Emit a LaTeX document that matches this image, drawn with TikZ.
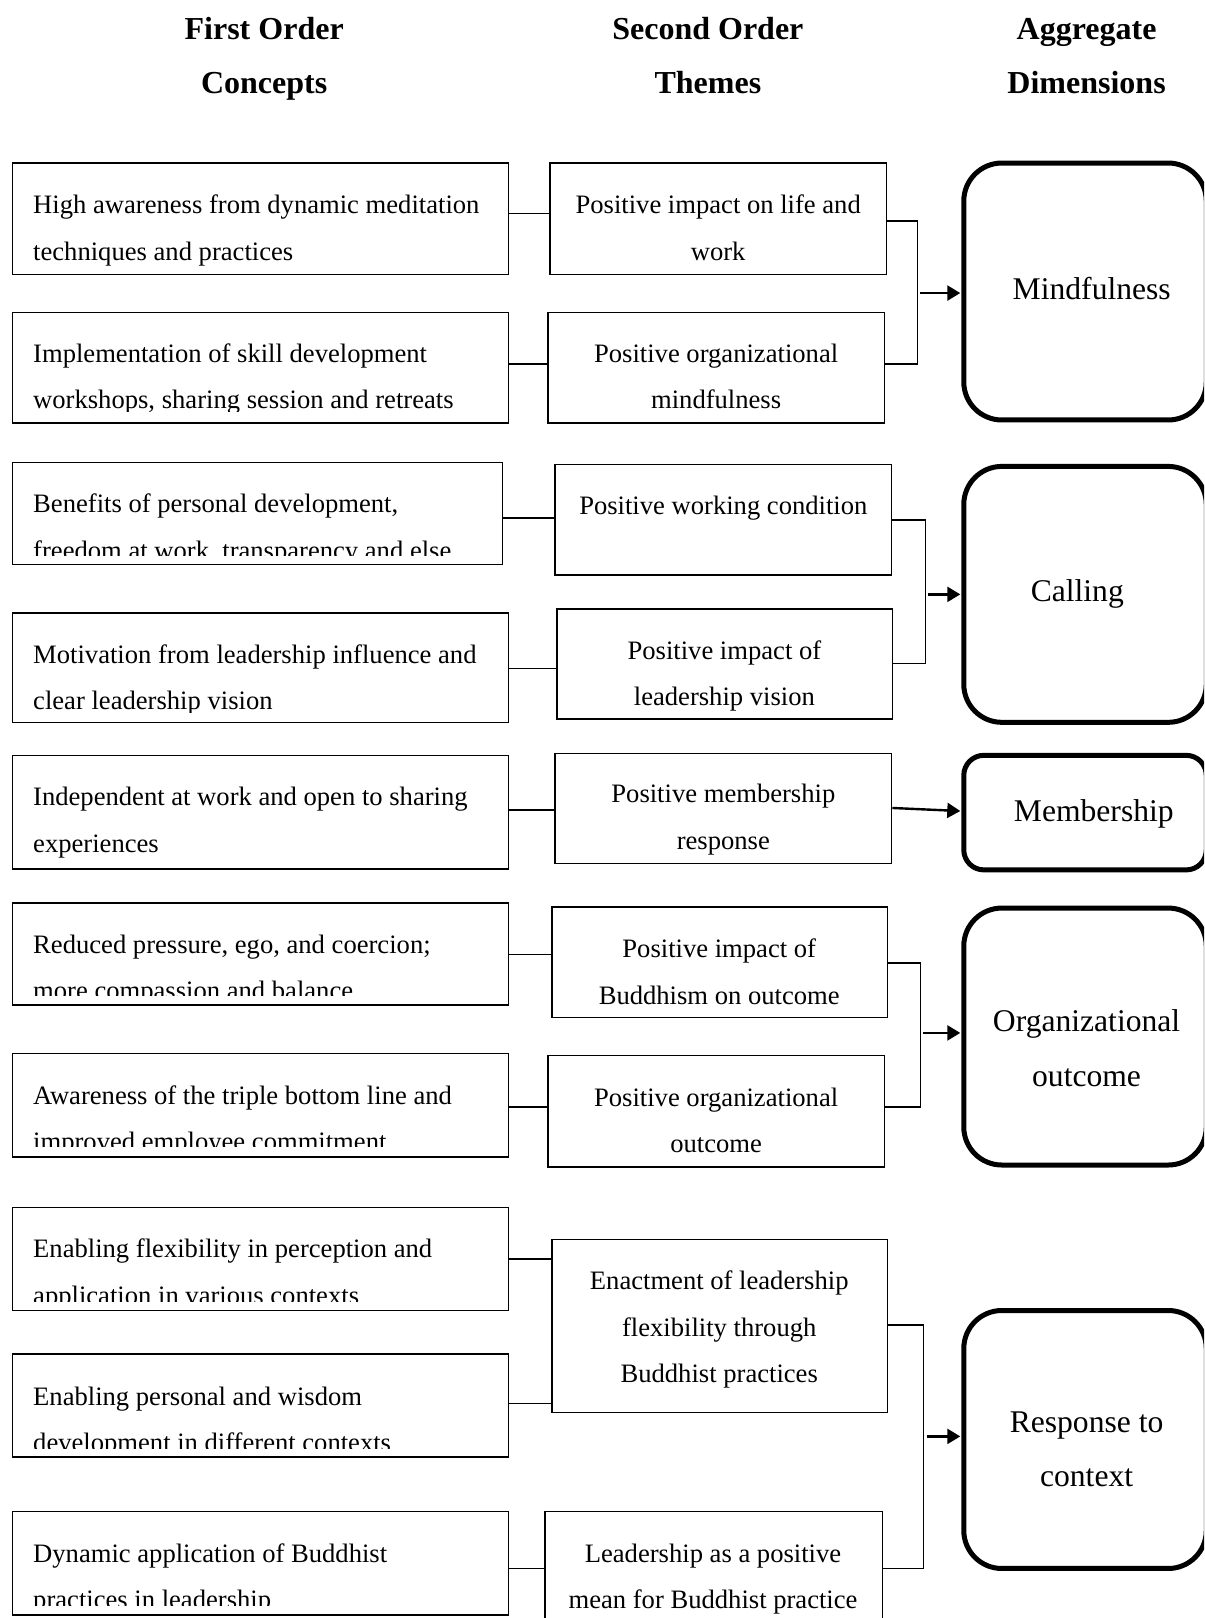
\documentclass[tikz,border=0pt]{standalone}
\usepackage{fontspec}
\setmainfont{Liberation Serif}
\usetikzlibrary{fit,arrows.meta}
\tikzset{
  box/.style={draw=black, line width=1.5pt, inner sep=0pt, rectangle},
  dimbox/.style={draw=black, line width=5pt, inner sep=0pt, rectangle, rounded corners=38pt},
  dimboxs/.style={draw=black, line width=5pt, inner sep=0pt, rectangle, rounded corners=20pt},
  lefttxt/.style={anchor=base west, align=left, inner sep=0pt, font=\fontsize{26.6}{46.4}\selectfont},
  midtxt/.style={anchor=base, align=center, inner sep=0pt, font=\fontsize{26.6}{46.4}\selectfont},
  dimtxt/.style={anchor=base, align=center, inner sep=0pt, font=\fontsize{31.6}{54.7}\selectfont},
  headtxt/.style={anchor=base, align=center, inner sep=0pt, font=\bfseries\fontsize{32}{54.7}\selectfont},
  link/.style={draw=black, line width=1.6pt},
  arr/.style={draw=black, line width=2.4pt, -{Triangle[length=13pt,width=15pt]}, shorten >=1pt},
}
\begin{document}
\begin{tikzpicture}[x=1.0317pt,y=-1.0317pt]
\useasboundingbox (0,0) rectangle (1167,1568);
\clip (0,0) rectangle (1167,1568);
\fill[white] (0,0) rectangle (1167,1568);

% headers (base = last line)
\node[headtxt] (h1) at (256,91) {First Order\\Concepts};
\node[headtxt] (h2) at (686,91) {Second Order\\Themes};
\node[headtxt] (h3) at (1053,91) {Aggregate\\Dimensions};

% left boxes
\node[box, fit={(12,158)(493,266)}] (l1) {};
\node[box, fit={(12,303)(493,410)}] (l2) {};
\node[box, fit={(12,448)(487,547)}] (l3) {};
\node[box, fit={(12,594)(493,700)}] (l4) {};
\node[box, fit={(12,732)(493,842)}] (l5) {};
\node[box, fit={(12,875)(493,974)}] (l6) {};
\node[box, fit={(12,1021)(493,1121)}] (l7) {};
\node[box, fit={(12,1170)(493,1270)}] (l8) {};
\node[box, fit={(12,1312)(493,1412)}] (l9) {};
\node[box, fit={(12,1465)(493,1565)}] (l10) {};

\node[lefttxt] (l1t) at (32,252) {High awareness from dynamic meditation\\techniques and practices};
\begin{scope}\clip (12,150) rectangle (493,399);
\node[lefttxt] (l2t) at (32,396) {Implementation of skill development\\workshops, sharing session and retreats};
\end{scope}
\begin{scope}\clip (12,440) rectangle (487,538);
\node[lefttxt] (l3t) at (32,542) {Benefits of personal development,\\freedom at work, transparency and else};
\end{scope}
\begin{scope}\clip (12,580) rectangle (493,690);
\node[lefttxt] (l4t) at (32,688) {Motivation from leadership influence and\\clear leadership vision};
\end{scope}
\node[lefttxt] (l5t) at (32,826) {Independent at work and open to sharing\\experiences};
\begin{scope}\clip (12,860) rectangle (493,965);
\node[lefttxt] (l6t) at (32,969) {Reduced pressure, ego, and coercion;\\more compassion and balance};
\end{scope}
\begin{scope}\clip (12,1010) rectangle (493,1111);
\node[lefttxt] (l7t) at (32,1115) {Awareness of the triple bottom line and\\improved employee commitment};
\end{scope}
\begin{scope}\clip (12,1160) rectangle (493,1261);
\node[lefttxt] (l8t) at (32,1264) {Enabling flexibility in perception and\\application in various contexts};
\end{scope}
\begin{scope}\clip (12,1300) rectangle (493,1404);
\node[lefttxt] (l9t) at (32,1407) {Enabling personal and wisdom\\development in different contexts};
\end{scope}
\begin{scope}\clip (12,1450) rectangle (493,1556);
\node[lefttxt] (l10t) at (32,1559) {Dynamic application of Buddhist\\practices in leadership};
\end{scope}

% middle boxes
\node[box, fit={(533,158)(859,266)}] (m1) {};
\node[box, fit={(531,303)(857,410)}] (m2) {};
\node[box, fit={(538,450)(864,557)}] (m3) {};
\node[box, fit={(540,590)(865,697)}] (m4) {};
\node[box, fit={(538,730)(864,837)}] (m5) {};
\node[box, fit={(535,879)(860,986)}] (m6) {};
\node[box, fit={(531,1023)(857,1131)}] (m7) {};
\node[box, fit={(535,1201)(860,1369)}] (m8) {};
\node[box, fit={(528,1465)(855,1590)}] (m9) {};

\node[midtxt] (m1t) at (696,252) {Positive impact on life and\\work};
\node[midtxt] (m2t) at (694,396) {Positive organizational\\mindfulness};
\node[midtxt] (m3t) at (701,499) {Positive working condition};
\node[midtxt] (m4t) at (702,684) {Positive impact of\\leadership vision};
\node[midtxt] (m5t) at (701,823) {Positive membership\\response};
\node[midtxt] (m6t) at (697,973) {Positive impact of\\Buddhism on outcome};
\node[midtxt] (m7t) at (694,1117) {Positive organizational\\outcome};
\node[midtxt] (m8t) at (697,1340) {Enactment of leadership\\flexibility through\\Buddhist practices};
\node[midtxt] (m9t) at (691,1559) {Leadership as a positive\\mean for Buddhist practice};

% aggregate dimension boxes
\node[dimbox, fit={(934,158)(1169,407)}] (r1) {};
\node[dimbox, fit={(934,452)(1169,700)}] (r2) {};
\node[dimboxs, fit={(934,732)(1169,843)}] (r3) {};
\node[dimbox, fit={(934,880)(1169,1129)}] (r4) {};
\node[dimbox, fit={(934,1270)(1169,1520)}] (r5) {};

\node[dimtxt] (r1t) at (1058,290) {Mindfulness};
\node[dimtxt] (r2t) at (1044,583) {Calling};
\node[dimtxt] (r3t) at (1060,796) {Membership};
\node[dimtxt] (r4t) at (1053,1053) {Organizational\\outcome};
\node[dimtxt] (r5t) at (1053,1441) {Response to\\context};

% first to second order links
\draw[link] (l1.east |- 0,207) -- (m1.west |- 0,207);
\draw[link] (l2.east |- 0,353) -- (m2.west |- 0,353);
\draw[link] (l3.east |- 0,502) -- (m3.west |- 0,502);
\draw[link] (l4.east |- 0,648) -- (m4.west |- 0,648);
\draw[link] (l5.east |- 0,785) -- (m5.west |- 0,785);
\draw[link] (l6.east |- 0,925) -- (m6.west |- 0,925);
\draw[link] (l7.east |- 0,1073) -- (m7.west |- 0,1073);
\draw[link] (l8.east |- 0,1220) -- (m8.west |- 0,1220);
\draw[link] (l9.east |- 0,1360) -- (m8.west |- 0,1360);
\draw[link] (l10.east |- 0,1520) -- (m9.west |- 0,1520);

% brackets and arrows
\coordinate (j1) at (889,284);
\coordinate (j2) at (897,576);
\coordinate (j4) at (892,1001);
\coordinate (j5) at (895,1392);
\draw[link] (m1.east |- 0,214) -- (j1 |- 0,214) -- (j1 |- 0,353) -- (m2.east |- 0,353);
\draw[arr] ([xshift=3pt]j1) -- (r1.west |- j1);
\draw[link] (m3.east |- 0,504) -- (j2 |- 0,504) -- (j2 |- 0,643) -- (m4.east |- 0,643);
\draw[arr] ([xshift=2pt]j2) -- (r2.west |- j2);
\draw[arr] (m5.east |- 0,783) -- (r3.west |- 0,786);
\draw[link] (m6.east |- 0,933) -- (j4 |- 0,933) -- (j4 |- 0,1073) -- (m7.east |- 0,1073);
\draw[arr] ([xshift=3pt]j4) -- (r4.west |- j4);
\draw[link] (m8.east |- 0,1284) -- (j5 |- 0,1284) -- (j5 |- 0,1520) -- (m9.east |- 0,1520);
\draw[arr] ([xshift=3pt]j5) -- (r5.west |- j5);
\end{tikzpicture}
\end{document}
